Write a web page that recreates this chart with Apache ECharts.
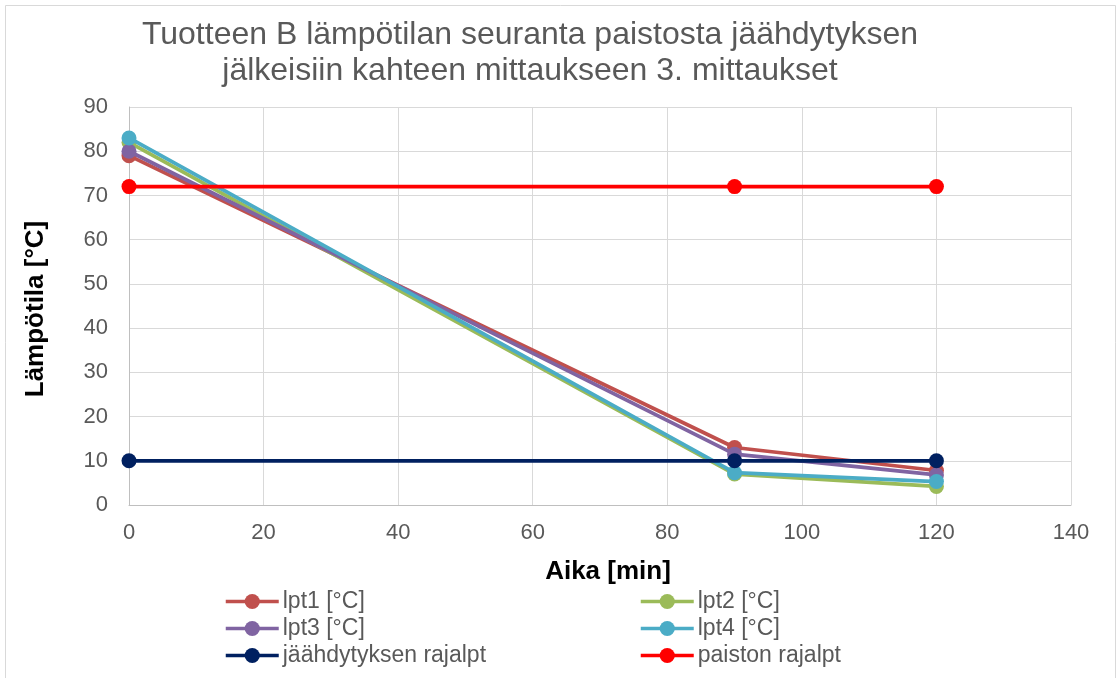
<!DOCTYPE html>
<html>
<head>
<meta charset="utf-8">
<script src="https://cdn.jsdelivr.net/npm/echarts@6/dist/echarts.min.js"></script>
<style>
  html, body { margin: 0; padding: 0; background: #fff; }
  #chart { width: 1117px; height: 678px; }
</style>
</head>
<body>
<div id="chart"></div>
<script>
// Measurement times (min)
const times = [0, 90, 120];

// Temperatures per measuring point (°C)
const lpt1 = [79, 13, 7.8];
const lpt2 = [82, 7, 4.2];
const lpt3 = [80, 11.5, 6.8];
const lpt4 = [83, 7.3, 5.3];
const coolingLimit = [10, 10, 10];
const bakingLimit = [72, 72, 72];

const seriesNames = ['lpt1 [°C]', 'lpt2 [°C]', 'lpt3 [°C]', 'lpt4 [°C]', 'jäähdytyksen rajalpt', 'paiston rajalpt'];
const seriesColors = ['#c0504d', '#9bbb59', '#8064a2', '#4bacc6', '#002060', '#ff0000'];
const seriesValues = [lpt1, lpt2, lpt3, lpt4, coolingLimit, bakingLimit];

const textColor = '#595959';
const font = 'Liberation Sans, Arial, sans-serif';

const chart = echarts.init(document.getElementById('chart'), null, { renderer: 'canvas' });

const series = seriesNames.map((name, i) => ({
  name,
  type: 'line',
  data: times.map((t, j) => [t, seriesValues[i][j]]),
  symbol: 'circle',
  symbolSize: 15,
  lineStyle: { width: 3.75, color: seriesColors[i] },
  itemStyle: { color: seriesColors[i] },
  z: 2 + i
}));

const legendBase = {
  orient: 'vertical',
  padding: 0,
  itemWidth: 53,
  itemHeight: 19,
  itemGap: 4,
  lineStyle: { width: 3.5 },
  textStyle: { color: textColor, fontSize: 23, fontFamily: font, padding: [0, 0, 0, -1] }
};

chart.setOption({
  backgroundColor: '#fff',
  animation: false,
  title: {
    text: 'Tuotteen B lämpötilan seuranta paistosta jäähdytyksen\njälkeisiin kahteen mittaukseen 3. mittaukset',
    left: 525,
    textAlign: 'center',
    top: 12,
    textStyle: { color: textColor, fontSize: 32, fontWeight: 'normal', fontFamily: font, lineHeight: 36 }
  },
  graphic: [{
    type: 'rect',
    shape: { x: 5.5, y: 5.5, width: 1110, height: 680 },
    style: { fill: 'none', stroke: '#d9d9d9', lineWidth: 1 },
    silent: true
  }],
  legend: [
    Object.assign({}, legendBase, { left: 224, top: 590, data: [seriesNames[0], seriesNames[2], seriesNames[4]] }),
    Object.assign({}, legendBase, { left: 639, top: 590, data: [seriesNames[1], seriesNames[3], seriesNames[5]] })
  ],
  grid: { left: 129, right: 46, top: 107, bottom: 173, containLabel: false },
  xAxis: {
    type: 'value',
    min: 0,
    max: 140,
    interval: 20,
    name: 'Aika [min]',
    nameLocation: 'middle',
    nameGap: 54,
    nameTextStyle: { color: '#000', fontSize: 26, fontWeight: 'bold', fontFamily: font, padding: [0, 0, 0, 16] },
    axisLine: { show: true, lineStyle: { color: '#bfbfbf', width: 1 } },
    axisTick: { show: false },
    splitLine: { show: true, lineStyle: { color: '#d9d9d9', width: 1 } },
    axisLabel: { color: textColor, fontSize: 22, fontFamily: font, margin: 17 }
  },
  yAxis: {
    type: 'value',
    min: 0,
    max: 90,
    interval: 10,
    name: 'Lämpötila [°C]',
    nameLocation: 'middle',
    nameGap: 80,
    nameRotate: 90,
    nameTextStyle: { color: '#000', fontSize: 26, fontWeight: 'bold', fontFamily: font, padding: [0, 6, 0, 0] },
    axisLine: { show: true, lineStyle: { color: '#bfbfbf', width: 1 } },
    axisTick: { show: false },
    splitLine: { show: true, lineStyle: { color: '#d9d9d9', width: 1 } },
    axisLabel: { color: textColor, fontSize: 22, fontFamily: font, margin: 21 }
  },
  series
});
</script>
</body>
</html>
